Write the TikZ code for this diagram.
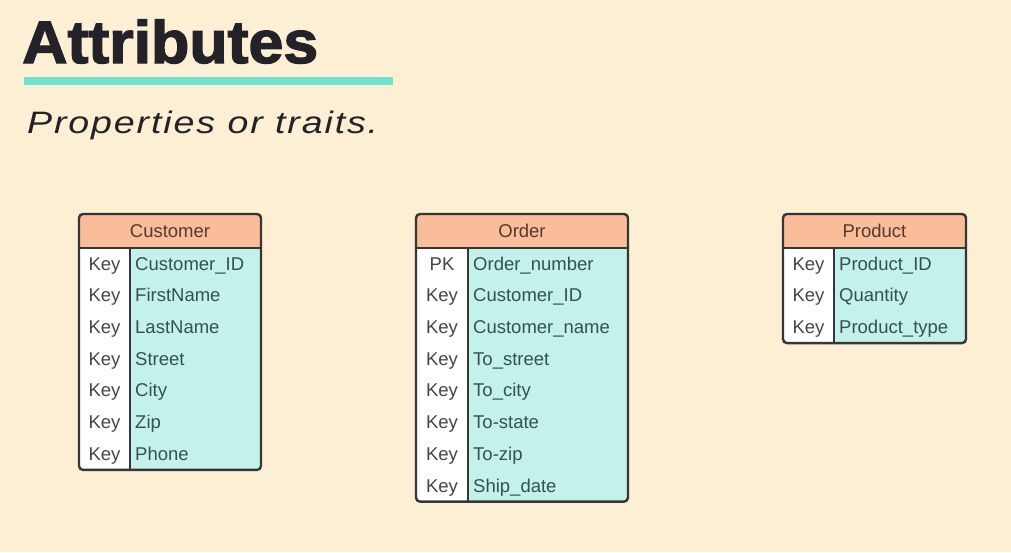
\documentclass[tikz,border=0pt]{standalone}
\usepackage{fontspec}
\setmainfont{Liberation Sans}
\newfontfamily\heavyfont{Liberation Sans Bold}[FakeBold=2.2]
\newfontfamily\subfont{Liberation Sans Italic}[LetterSpace=5]
\usepackage{graphicx}
\definecolor{bgc}{HTML}{FCEFD4}
\definecolor{hdrc}{HTML}{F9BD9A}
\definecolor{bodyc}{HTML}{C3F2EA}
\definecolor{linec}{HTML}{6FE3D2}
\definecolor{framec}{HTML}{363636}
\definecolor{titlec}{HTML}{222228}
\definecolor{hdrtxt}{HTML}{54392C}
\definecolor{keytxt}{HTML}{454545}
\definecolor{fldtxt}{HTML}{35504D}
\tikzset{
  frame/.style={draw=framec, line width=2.4pt, rounded corners=4pt},
  innerline/.style={draw=framec, line width=2pt},
  hdrtext/.style={text=hdrtxt, font=\fontsize{18.5}{20}\selectfont, inner sep=0pt, anchor=base},
  keytext/.style={text=keytxt, font=\fontsize{18.5}{20}\selectfont, inner sep=0pt, anchor=base},
  fldtext/.style={text=fldtxt, font=\fontsize{18.5}{20}\selectfont, inner sep=0pt, anchor=base west},
}
% #1 name, #2 left, #3 divider, #4 right, #5 rows, #6 title, #7 key/field list
\newcommand\erdtab[7]{%
  \pgfmathsetmacro\tabB{248+#5*31.7}%
  \begin{scope}
    \clip[rounded corners=4pt] (#2,214) rectangle (#4,\tabB);
    \fill[bodyc] (#2,248) rectangle (#4,\tabB);
    \fill[hdrc] (#2,214) rectangle (#4,248);
    \fill[white] (#2,248) rectangle (#3,\tabB);
  \end{scope}
  \draw[frame] (#2,214) rectangle (#4,\tabB);
  \draw[innerline] (#2,248) -- (#4,248);
  \draw[innerline] (#3,248) -- (#3,\tabB);
  \node[hdrtext] (#1-title) at ({(#2+#4)/2},237) {#6};
  \foreach \k/\f [count=\i] in {#7} {
    \node[keytext] (#1-k\i) at ({(#2+#3)/2},{248+(\i-0.5)*31.7+6.3}) {\k};
    \node[fldtext] (#1-f\i) at ({#3+5},{248+(\i-0.5)*31.7+6.3}) {\f};
  }%
}
\begin{document}
\begin{tikzpicture}[x=1pt,y=-1pt]
\fill[bgc] (0,0) rectangle (1011,552);
\useasboundingbox (0,0) rectangle (1011,552);
\node[anchor=base west, inner sep=0pt, text=titlec] (title) at (22,63)
  {\resizebox{296pt}{\height}{\fontsize{60}{60}\heavyfont Attributes}};
\fill[linec] (24,77) rectangle (393,85);
\node[anchor=base west, inner sep=0pt, text=titlec] (subtitle) at (27,133)
  {\resizebox{351pt}{\height}{\fontsize{31}{31}\subfont Properties or traits.}};
\erdtab{cust}{79}{130}{261}{7}{Customer}{Key/Customer\_ID, Key/FirstName, Key/LastName, Key/Street, Key/City, Key/Zip, Key/Phone}
\erdtab{ord}{416}{468}{628}{8}{Order}{PK/Order\_number, Key/Customer\_ID, Key/Customer\_name, Key/To\_street, Key/To\_city, Key/To-state, Key/To-zip, Key/Ship\_date}
\erdtab{prod}{783}{834}{966}{3}{Product}{Key/Product\_ID, Key/Quantity, Key/Product\_type}
\end{tikzpicture}
\end{document}
